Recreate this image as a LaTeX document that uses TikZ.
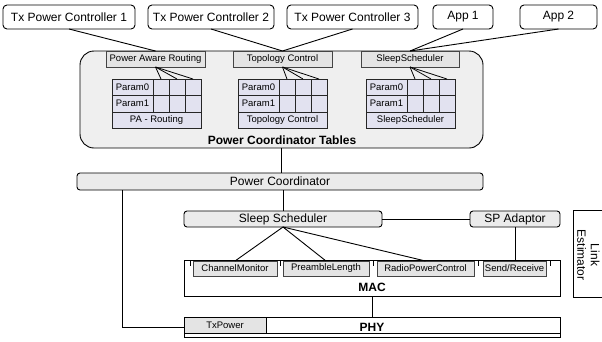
\documentclass[tikz,border=0pt]{standalone}
\usepackage{fontspec}
\setmainfont{Liberation Sans}
\definecolor{boxgray}{HTML}{EBEBEB}
\definecolor{subgray}{HTML}{E4E4E4}
\definecolor{panelgray}{HTML}{EFEFEF}
\definecolor{lav}{HTML}{E2E2F0}
\definecolor{edgegray}{HTML}{444444}
\tikzset{
  every node/.style={inner sep=0pt, outer sep=0pt},
  big/.style={font=\fontsize{12}{13.5}\selectfont},
  small/.style={font=\fontsize{9.5}{11}\selectfont},
  topbox/.style={draw=black, fill=white, rounded corners=4pt, line width=0.9pt, minimum height=24, big},
  graybox/.style={draw=black, fill=boxgray, rounded corners=3pt, line width=0.9pt, minimum height=16.5, big},
  headbox/.style={draw=edgegray, fill=subgray, line width=0.7pt, minimum height=16, small},
  subbox/.style={draw=edgegray, fill=subgray, line width=0.7pt, minimum height=15, small},
  cell/.style={draw=black!85, fill=lav, line width=0.7pt, minimum height=16.5, small, anchor=north west},
  plain/.style={draw=black, fill=white, line width=0.9pt},
  conn/.style={draw=black, line width=0.9pt},
  bigbold/.style={font=\fontsize{12}{13.5}\selectfont\bfseries}
}
\newcommand\partable[3]{%
  \node[cell, minimum width=41] (#1p0) at (#2,79) {Param0};
  \node[cell, minimum width=41] (#1p1) at (#2,95.5) {Param1};
  \foreach \i in {1,2,3} {
    \node[cell, minimum width=16] (#1c0\i) at ({#2+41+16*(\i-1)},79) {};
    \node[cell, minimum width=16] (#1c1\i) at ({#2+41+16*(\i-1)},95.5) {};
  }
  \node[cell, minimum width=89] (#1lab) at (#2,112) {#3};
  \foreach \i in {1,2,3} {\draw[line width=0.8pt] (#1head.south) -- (#1c0\i.north);}
}
\begin{document}
\begin{tikzpicture}[x=1pt,y=-1pt]
\useasboundingbox (0,0) rectangle (602,341);

% top boxes
\node[topbox, minimum width=132] (tx1) at (69,17) {Tx Power Controller 1};
\node[topbox, minimum width=126] (tx2) at (211,17) {Tx Power Controller 2};
\node[topbox, minimum width=131] (tx3) at (352.5,17) {Tx Power Controller 3};
\node[topbox, minimum width=60] (app1) at (463,17) {App 1};
\node[topbox, minimum width=77] (app2) at (558.5,17) {App 2};

% panel
\node[draw=black, fill=panelgray, line width=0.9pt, rounded corners=14pt, minimum width=403, minimum height=97] (panel) at (281.5,99.5) {};
\node[bigbold] (pctitle) at (282,140.5) {Power Coordinator Tables};

% header boxes
\node[headbox, minimum width=99] (pahead) at (155.5,59) {Power Aware Routing};
\node[headbox, minimum width=99] (tohead) at (282.5,59) {Topology Control};
\node[headbox, minimum width=98] (sshead) at (410,59) {SleepScheduler};

% connectors top
\draw[conn] (tx1.south) -- (pahead.north);
\draw[conn] (tx2.south) -- (tohead.north);
\draw[conn] (tx3.south) -- (tohead.north);
\draw[conn] (app1.south) -- (sshead.north);
\draw[conn] (app2.south) -- (sshead.north);

% tables
\partable{pa}{112}{PA - Routing}
\partable{to}{238}{Topology Control}
\partable{ss}{366}{SleepScheduler}

% power coordinator
\node[graybox, minimum width=406, minimum height=17] (pc) at (280,181.5) {Power Coordinator};
\draw[conn] (panel.south) -- (panel.south |- pc.north);

% sleep scheduler & SP adaptor
\node[graybox, minimum width=198, minimum height=16] (slp) at (283,219) {Sleep Scheduler};
\node[graybox, minimum width=90, minimum height=16] (spa) at (515,219) {SP Adaptor};
\draw[conn] (slp.north) -- (slp.north |- pc.south);
\draw[conn] (slp.east) -- (spa.west);

% MAC
\node[plain, minimum width=376, minimum height=36] (mac) at (372,278) {};
\node[bigbold] (maclab) at (372,287.5) {MAC};
\foreach \x in {190.5, 280, 373, 478.5, 550} {
  \draw[line width=0.7pt] (\x,260) -- (\x,265.5);
}
\node[subbox, minimum width=84] (cm) at (235,268.5) {ChannelMonitor};
\node[subbox, minimum width=86] (pl) at (326,268.5) {PreambleLength};
\node[subbox, minimum width=97] (rpc) at (425.5,268.5) {RadioPowerControl};
\node[subbox, minimum width=63] (sr) at (514.5,268.5) {Send/Receive};
\draw[conn] (slp.south) -- (cm.north);
\draw[conn] (slp.south) -- (pl.north);
\draw[conn] (slp.south) -- (rpc.north);
\draw[conn] (spa.south) -- (spa.south |- sr.north);

% PHY
\node[plain, minimum width=376, minimum height=20] (phy) at (372,327) {};
\draw[line width=0.9pt] (phy.west |- 0,333) -- (phy.east |- 0,333);
\node[subbox, draw=black, minimum width=82, minimum height=16] (txp) at (225,325) {TxPower};
\node[bigbold] (phylab) at (372,327) {PHY};
\draw[conn] (mac.south) -- (phy.north);
\path (pc.south west) ++(45,0) coordinate (pcl);
\draw[conn] (pcl) |- (phy.west);

% Link Estimator
\node[plain, minimum width=44, minimum height=87] (le) at (595,253.5) {};
\node[big, rotate=-90, align=center] (letext) at (588.5,255) {Link\\Estimator};
\end{tikzpicture}
\end{document}
